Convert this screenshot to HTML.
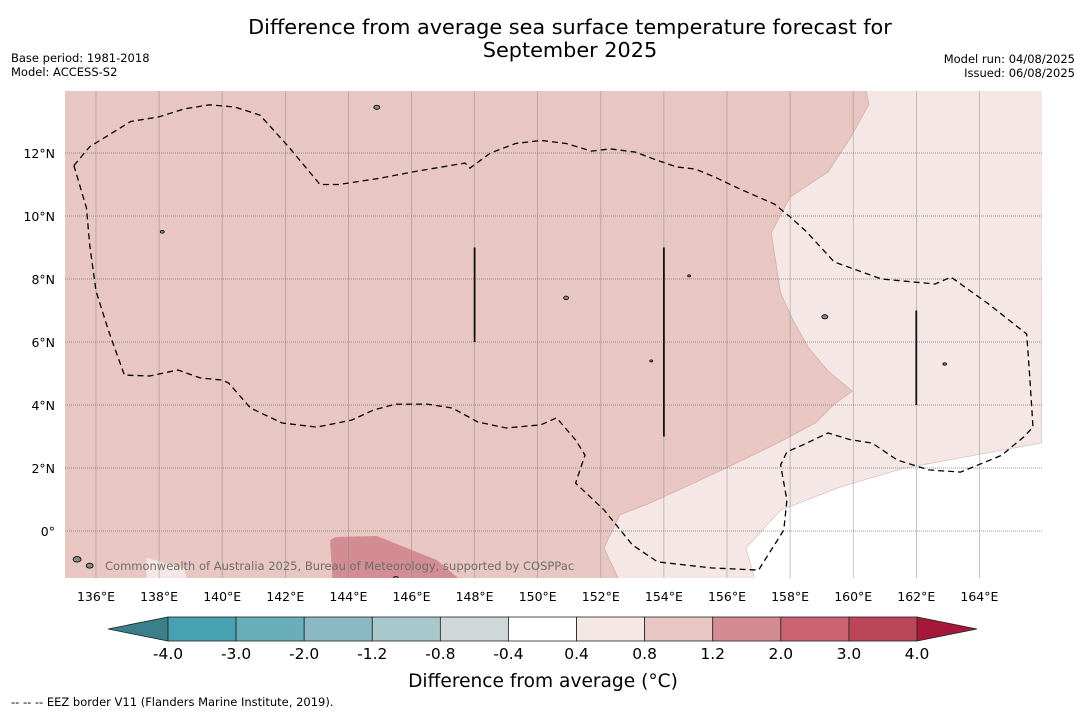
<!DOCTYPE html>
<html><head><meta charset="utf-8"><style>
html,body{margin:0;padding:0;background:#fff;}
svg{display:block;font-family:"DejaVu Sans","Liberation Sans",sans-serif;}
</style></head><body>
<svg id="chart" width="1085" height="713" viewBox="0 0 1085 713">
<text x="570" y="34" text-anchor="middle" font-size="20.8" fill="#000">Difference from average sea surface temperature forecast for</text>
<text x="570" y="57" text-anchor="middle" font-size="20.8" fill="#000">September 2025</text>
<text x="11" y="62" font-size="11.5">Base period: 1981-2018</text>
<text x="11" y="76" font-size="11.5">Model: ACCESS-S2</text>
<text x="1075" y="63" font-size="11.5" text-anchor="end">Model run: 04/08/2025</text>
<text x="1075" y="77" font-size="11.5" text-anchor="end">Issued: 06/08/2025</text>
<defs><clipPath id="mapclip"><rect x="65" y="91" width="977" height="487"/></clipPath></defs>
<g id="map" clip-path="url(#mapclip)"></g>
<g id="axes"></g>
<g id="cbar"></g>
<text x="543" y="687" text-anchor="middle" font-size="18.6">Difference from average (°C)</text>
<text x="11" y="706" font-size="11.5">--  --  -- EEZ border V11 (Flanders Marine Institute, 2019).</text>
</svg>
<script>
const NS="http://www.w3.org/2000/svg";
const lonTicks=[136,138,140,142,144,146,148,150,152,154,156,158,160,162,164];
const latTicks=[12,10,8,6,4,2,0];
const cbBounds=[-4.0,-3.0,-2.0,-1.2,-0.8,-0.4,0.4,0.8,1.2,2.0,3.0,4.0];
const cbColors=["#48a1b1","#6aaeba","#8ab8c3","#a9c8cc","#cfd7d9","#ffffff","#f5e7e5","#e8c6c2","#d48c93","#c8636f","#bb4657"];
const cbLabels=["-4.0","-3.0","-2.0","-1.2","-0.8","-0.4","0.4","0.8","1.2","2.0","3.0","4.0"];
const regionLight=[[165.97,2.8],[161.6,1.99],[159.6,1.4],[157.7,0.66],[156.6,-0.54],[156.9,-1.6],[135,-1.6],[135,14],[166,14]];
const regionDark=[[135,14],[160.4,14],[160.5,13.55],[159.9,12.46],[159.2,11.4],[158.0,10.6],[157.4,9.46],[157.7,7.55],[158.1,6.67],[158.6,5.8],[159.2,5.08],[159.97,4.44],[159.4,4.03],[158.8,3.43],[157.6,2.79],[156.3,2.16],[154.9,1.5],[153.5,0.86],[152.6,0.51],[152.1,-0.54],[152.6,-1.6],[135,-1.6]];
const regionHot=[[143.42,-0.29],[143.6,-0.19],[144.9,-0.16],[146.8,-0.92],[147.6,-1.6],[143.5,-1.6]];
const regionPale=[[137.6,-0.85],[138.8,-1.2],[138.9,-1.6],[137.6,-1.6]];
const eez=[[135.3,11.6],[135.8,12.2],[137.1,13.0],[138.0,13.15],[138.8,13.4],[139.6,13.53],[140.4,13.46],[141.2,13.2],[142.1,12.2],[143.1,11.0],[143.7,11.0],[145.0,11.2],[146.2,11.43],[147.7,11.68],[147.85,11.52],[148.5,12.0],[149.3,12.3],[150.1,12.4],[150.9,12.3],[151.7,12.06],[152.3,12.13],[153.1,12.03],[153.7,11.8],[154.4,11.56],[155.0,11.49],[155.6,11.24],[156.4,10.86],[157.5,10.38],[158.0,9.97],[158.5,9.52],[159.4,8.54],[160.9,8.0],[162.6,7.84],[163.1,8.06],[164.3,7.2],[165.5,6.25],[165.6,4.83],[165.7,3.3],[165.4,2.98],[164.7,2.4],[163.4,1.87],[162.4,1.94],[161.4,2.25],[160.6,2.79],[159.9,2.9],[159.2,3.11],[158.4,2.73],[157.9,2.51],[157.7,2.1],[157.9,0.98],[157.8,0.03],[157.1,-1.08],[157.0,-1.24],[155.5,-1.17],[153.8,-0.98],[153.0,-0.44],[152.1,0.67],[151.2,1.52],[151.5,2.41],[151.2,2.89],[150.6,3.59],[150.1,3.37],[149.0,3.27],[148.1,3.46],[147.3,3.9],[146.5,4.03],[145.5,4.03],[144.8,3.84],[144.1,3.52],[143.0,3.3],[141.9,3.43],[140.9,3.9],[140.2,4.7],[140.0,4.79],[139.3,4.86],[138.6,5.11],[137.7,4.92],[136.9,4.95],[136.4,6.35],[136.0,7.62],[135.8,9.08],[135.7,10.25],[135.3,11.6]];
const ridges=[[148,6,9],[154,3,9],[162,4,7]];
const islands=[[144.9,13.45,3],[138.1,9.5,2],[154.8,8.1,1.5],[159.1,6.8,3],[162.9,5.3,1.8],[153.6,5.4,1.5],[150.9,7.4,2.5],[135.4,-0.9,4],[135.8,-1.1,3.5],[145.5,-1.5,2.5]];
function X(lon){return 96+(lon-136)*31.55;}
function Y(lat){return 531-lat*31.5;}
function el(tag,attrs,parent){const e=document.createElementNS(NS,tag);for(const k in attrs)e.setAttribute(k,attrs[k]);parent.appendChild(e);return e;}
function pts(a){return a.map(p=>X(p[0]).toFixed(1)+","+Y(p[1]).toFixed(1)).join(" ");}
const map=document.getElementById("map");
let bg=el("rect",{x:65,y:91,width:977,height:487,fill:"#ffffff"},map);


let r1=el("polygon",{points:pts(regionLight),fill:"#f5e7e5",stroke:"#dcc5c2","stroke-width":0.8},map);


let r2=el("polygon",{points:pts(regionDark),fill:"#e8c6c2",stroke:"#d6aeaa","stroke-width":0.8},map);


let r3=el("polygon",{points:pts(regionHot),fill:"#d48c93"},map);


let r4=el("polygon",{points:pts(regionPale),fill:"#f5e7e5"},map);


lonTicks.forEach(l=>{let g=el("line",{x1:X(l),x2:X(l),y1:91,y2:578,stroke:"#888","stroke-width":0.6,"stroke-opacity":0.8},map);

});
latTicks.forEach(l=>{let g=el("line",{x1:65,x2:1042,y1:Y(l),y2:Y(l),stroke:"#777","stroke-width":0.7,"stroke-dasharray":"1,1"},map);

});
let ez=el("polyline",{points:pts(eez),fill:"none",stroke:"#000","stroke-width":1.3,"stroke-dasharray":"6,4"},map);


ridges.forEach(r=>{let l=el("line",{x1:X(r[0]),x2:X(r[0]),y1:Y(r[2]),y2:Y(r[1]),stroke:"#111","stroke-width":1.8},map);

});
islands.forEach(i=>{let c=el("ellipse",{cx:X(i[0]),cy:Y(i[1]),rx:i[2],ry:i[2]*0.7,fill:"#888",stroke:"#000","stroke-width":0.8},map);

});
let cr=el("text",{x:105,y:570,"font-size":11.5,fill:"#6e6e6e"},map);
cr.textContent="Commonwealth of Australia 2025, Bureau of Meteorology, supported by COSPPac";


const axes=document.getElementById("axes");
lonTicks.forEach(l=>{let t=el("text",{x:X(l),y:601,"text-anchor":"middle","font-size":12.5},axes);t.textContent=l+"°E";

});
latTicks.forEach(l=>{let t=el("text",{x:55,y:Y(l)+5,"text-anchor":"end","font-size":12.5},axes);t.textContent=l===0?"0°":l+"°N";

});
const cb=document.getElementById("cbar");
const cx0=168,cx1=917,cy=617,ch=24,n=cbColors.length,w=(cx1-cx0)/n;
let lt=el("polygon",{points:`108,629 ${cx0},${cy} ${cx0},${cy+ch}`,fill:"#3a7f8a",stroke:"#222","stroke-width":0.8},cb);


let rt=el("polygon",{points:`977,629 ${cx1},${cy} ${cx1},${cy+ch}`,fill:"#a6183a",stroke:"#222","stroke-width":0.8},cb);


cbColors.forEach((c,i)=>{let r=el("rect",{x:cx0+i*w,y:cy,width:w,height:ch,fill:c,stroke:"#222","stroke-width":0.8},cb);

});
cbLabels.forEach((s,i)=>{let t=el("text",{x:cx0+i*w,y:659,"text-anchor":"middle","font-size":15.5},cb);t.textContent=s;

});
</script>
</body></html>
